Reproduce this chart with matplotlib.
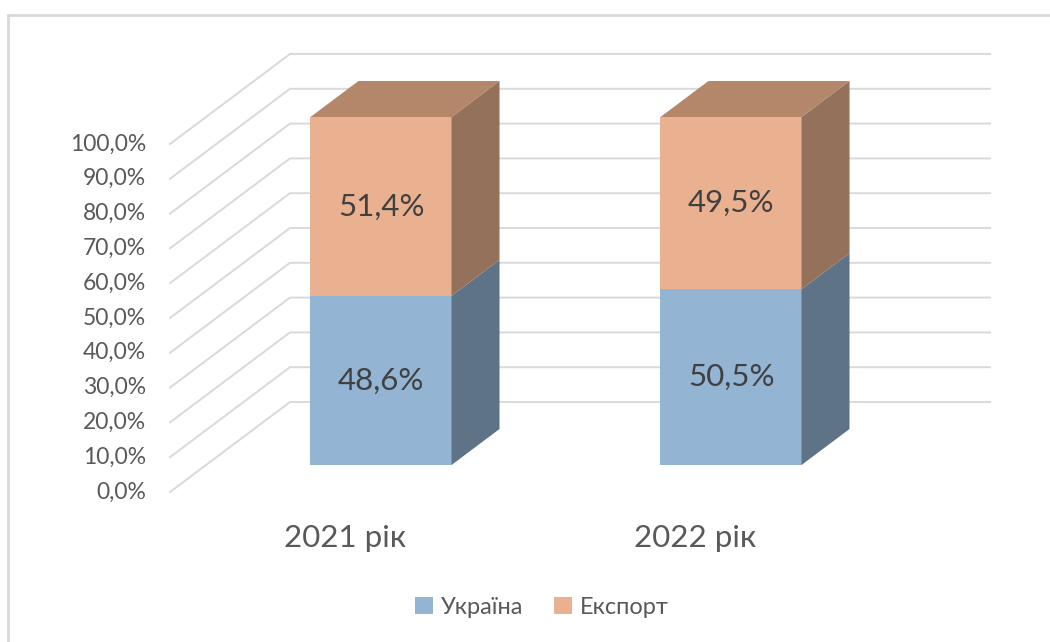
import matplotlib
matplotlib.use('Agg')
import matplotlib.pyplot as plt
from matplotlib.patches import Polygon, Patch

# data
years = ['2021 рік', '2022 рік']
series_names = ['Україна', 'Експорт']
ukraine = [48.6, 50.5]
export = [51.4, 49.5]
tick_values = [0, 10, 20, 30, 40, 50, 60, 70, 80, 90, 100]

# colours: (front, side, top)
colors = {
    'Україна': ('#93B4D2', '#5E7386', '#7590A8'),
    'Експорт': ('#EAB190', '#94715A', '#B4866A'),
}
GRID = '#D9D9D9'
TEXT = '#595959'
LABEL = '#404040'

# layout of the pseudo-3D box (pixels)
W, H = 1050, 642
PX_CAT = 350.0      # pixels per category step
PX_PCT = 3.48       # pixels per percent
ORIGIN = (381, 465)  # pixel of category 0, value 0 on bar front plane
SLANT = 1.333       # px right per px of depth
D_FLOOR, D_BAR, D_BACK = -27, 36, 63
BAR_W = 0.403

plt.rcParams['font.family'] = ['Lato', 'DejaVu Sans']

fig = plt.figure(figsize=(W / 100, H / 100), dpi=100)
ax = fig.add_axes([0, 0, 1, 1])
ax.set_xlim(-ORIGIN[0] / PX_CAT, (W - ORIGIN[0]) / PX_CAT)
ax.set_ylim(-(H - ORIGIN[1]) / PX_PCT, ORIGIN[1] / PX_PCT)
ax.axis('off')


def proj(x, v, d):
    """Shift a point (category x, value v) back by depth d (pixels)."""
    return (x + d * SLANT / PX_CAT, v + d / PX_PCT)


n = len(years)
x_lo, x_hi = -0.5, n - 0.5

# chart border (only top and left visible)
fig.add_artist(plt.Line2D([8 / W, 1], [1 - 15 / H, 1 - 15 / H], color='#D9D9D9', lw=2))
fig.add_artist(plt.Line2D([8 / W, 8 / W], [0, 1 - 15 / H], color='#D9D9D9', lw=2))

# walls
for v in tick_values:
    a = proj(x_lo, v, D_FLOOR)
    b = proj(x_lo, v, D_BACK)
    c = proj(x_hi, v, D_BACK)
    ax.plot([a[0], b[0], c[0]], [a[1], b[1], c[1]], color=GRID, lw=1.4, zorder=1)
    ax.text(a[0] - 24 / PX_CAT, a[1], f'{v:.1f}%'.replace('.', ','),
            ha='right', va='center', fontsize=16.5, color=TEXT)

# bars
for i in range(n):
    bottom = 0
    vals = [ukraine[i], export[i]]
    for k, name in enumerate(series_names):
        top = bottom + vals[k]
        front, side, topc = colors[name]
        l, r = i - BAR_W / 2, i + BAR_W / 2
        ax.add_patch(Polygon([proj(l, bottom, 0), proj(r, bottom, 0),
                              proj(r, top, 0), proj(l, top, 0)],
                             closed=True, fc=front, ec='none', zorder=3))
        ax.add_patch(Polygon([proj(r, bottom, 0), proj(r, bottom, D_BAR),
                              proj(r, top, D_BAR), proj(r, top, 0)],
                             closed=True, fc=side, ec='none', zorder=3))
        if k == len(series_names) - 1:
            ax.add_patch(Polygon([proj(l, top, 0), proj(r, top, 0),
                                  proj(r, top, D_BAR), proj(l, top, D_BAR)],
                                 closed=True, fc=topc, ec='none', zorder=3))
        ax.text(i, (bottom + top) / 2, f'{vals[k]:.1f}%'.replace('.', ','),
                ha='center', va='center', fontsize=22.5, color=LABEL, zorder=4)
        bottom = top
    lx, ly = proj(i, 0, D_FLOOR)
    ax.text(lx, ly - 46 / PX_PCT, years[i], ha='center', va='center',
            fontsize=22.5, color=TEXT)

handles = [Patch(facecolor=colors[s][0], edgecolor='none', label=s) for s in series_names]
fig.legend(handles=handles, loc='center', bbox_to_anchor=(542 / W, 1 - 607 / H),
           ncol=2, frameon=False, fontsize=17, labelcolor=TEXT,
           handlelength=0.75, handleheight=0.75, handletextpad=0.35, columnspacing=1.3)

fig.savefig('out.png', dpi=100, facecolor='white')
